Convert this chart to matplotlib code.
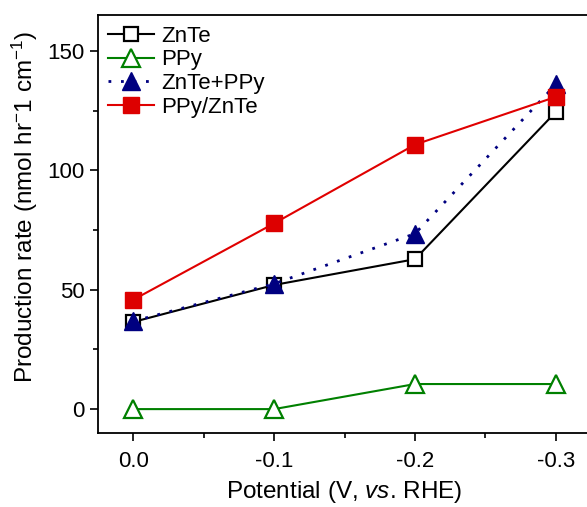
import matplotlib
matplotlib.use("Agg")
import matplotlib.pyplot as plt
from matplotlib.ticker import MultipleLocator

plt.rcParams['font.family'] = ['Liberation Sans', 'DejaVu Sans']
plt.rcParams['mathtext.fontset'] = 'custom'
plt.rcParams['mathtext.rm'] = 'Liberation Sans'
plt.rcParams['mathtext.it'] = 'Liberation Sans:italic'

potential = [0.0, -0.1, -0.2, -0.3]
znte = [36.5, 52.0, 62.8, 124.5]
ppy = [0.0, 0.0, 10.5, 10.5]
znte_ppy = [36.8, 52.5, 73.5, 136.0]
ppy_znte = [45.8, 77.8, 110.8, 130.8]

fig = plt.figure(figsize=(5.87, 5.07), dpi=100)
ax = fig.add_axes([0.167, 0.146, 0.84, 0.824])

ax.plot(potential, znte, color='black', lw=1.5, marker='s', ms=10,
        mfc='white', mec='black', mew=1.6, label='ZnTe')
ax.plot(potential, ppy, color='#008000', lw=1.5, marker='^', ms=13,
        mfc='white', mec='#008000', mew=1.6, label='PPy')
ax.plot(potential, znte_ppy, color='#000080', lw=2, ls=(0, (1, 3.5)),
        marker='^', ms=13, mfc='#000080', mec='#000080', label='ZnTe+PPy')
ax.plot(potential, ppy_znte, color='#e00000', lw=1.5, marker='s', ms=11,
        mfc='#dd0000', mec='#dd0000', label='PPy/ZnTe')

ax.set_xlim(0.025, -0.325)
ax.set_ylim(-10, 165)
ax.set_xticks(potential)
ax.set_xticklabels(['0.0', '-0.1', '-0.2', '-0.3'])
ax.set_yticks([0, 50, 100, 150])
ax.xaxis.set_minor_locator(MultipleLocator(0.05))
ax.yaxis.set_minor_locator(MultipleLocator(25))
ax.tick_params(which='major', direction='out', length=6, width=1.2, labelsize=16)
ax.tick_params(which='minor', direction='out', length=3.5, width=1.2)
ax.tick_params(axis='x', pad=7)
for s in ax.spines.values():
    s.set_linewidth(1.3)
ax.spines['right'].set_visible(False)

ax.set_xlabel('Potential (V, $\\it{vs}$. RHE)', fontsize=17.5, labelpad=5)
ax.set_ylabel('Production rate (nmol hr$^{-}$1 cm$^{-1}$)', fontsize=17.5)
ax.yaxis.set_label_coords(-0.118, 0.54)

ax.legend(loc='upper left', frameon=False, fontsize=16, handlelength=2.1,
          handletextpad=0.3, labelspacing=0.12, borderaxespad=0.3,
          bbox_to_anchor=(-0.012, 1.012))

fig.savefig('out.png', dpi=100)
